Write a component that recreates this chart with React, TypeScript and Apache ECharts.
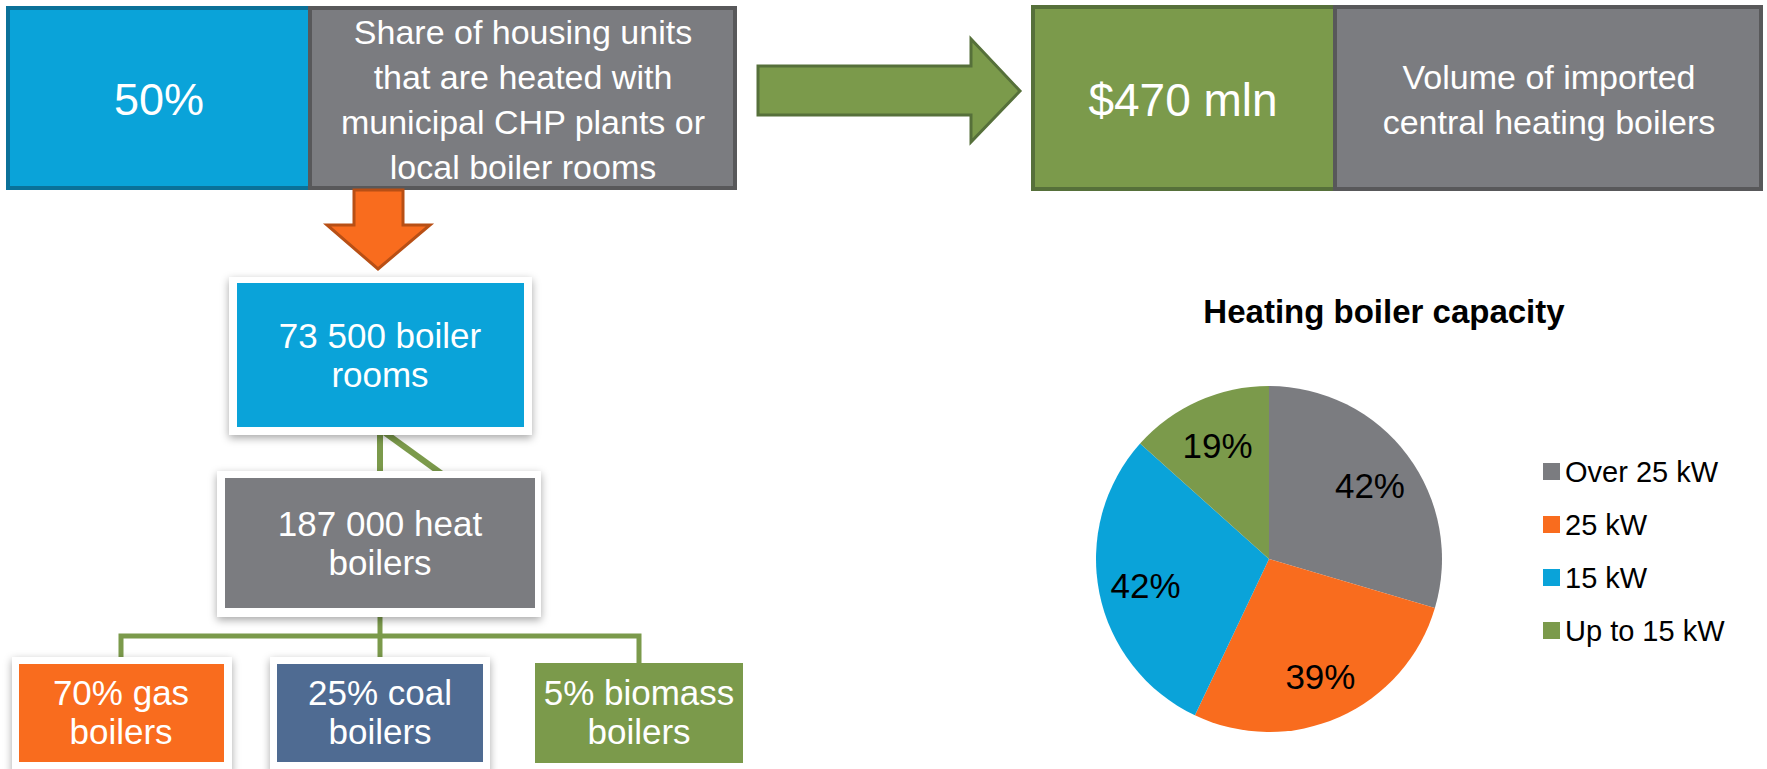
import React, { useEffect, useRef } from "react";
import * as echarts from "echarts";

// ---- Data ----
const pieTitle = "Heating boiler capacity";
const capacityCategories = ["Over 25 kW", "25 kW", "15 kW", "Up to 15 kW"];
const capacityValues = [42, 39, 42, 19];
const capacityColors = ["#7b7c80", "#f96c1e", "#0aa3d9", "#7b9a4b"];

const shareValue = "50%";
const shareText = "Share of housing units\nthat are heated with\nmunicipal CHP plants or\nlocal boiler rooms";
const importValue = "$470 mln";
const importText = "Volume of imported\ncentral heating boilers";
const boilerRoomsText = "73 500 boiler\nrooms";
const heatBoilersText = "187 000 heat\nboilers";
const fuelLabels = ["70% gas\nboilers", "25% coal\nboilers", "5% biomass\nboilers"];

const FONT = "Liberation Sans";
const BLUE = "#0aa3d9";
const GRAY = "#7b7c80";
const GREEN = "#7b9a4b";
const ORANGE = "#f96c1e";
const SLATE = "#4f6b92";

const txt = (x: number, y: number, text: string, fontSize: number, lineHeight?: number, extra: any = {}) => ({
  type: "text",
  x,
  y,
  z: 10,
  style: {
    text,
    fill: "#ffffff",
    fontSize,
    fontFamily: FONT,
    align: "center",
    verticalAlign: "middle",
    lineHeight: lineHeight || Math.round(fontSize * 1.2),
    ...extra,
  },
});

const rect = (x: number, y: number, w: number, h: number, style: any, z = 1) => ({
  type: "rect",
  z,
  shape: { x, y, width: w, height: h },
  style,
});

const frameShadow = { shadowBlur: 8, shadowColor: "rgba(0,0,0,0.35)", shadowOffsetY: 3 };

export default function App() {
  const ref = useRef<HTMLDivElement>(null);
  useEffect(() => {
    if (!ref.current) return;
    const chart = echarts.init(ref.current, undefined, { renderer: "svg" });
    const pieData = capacityCategories.map((name, i) => ({
      name,
      value: capacityValues[i],
      itemStyle: { color: capacityColors[i] },
    }));
    const labelData = capacityCategories.map((name, i) => ({
      name,
      value: capacityValues[i],
      itemStyle: { color: "rgba(0,0,0,0)" },
    }));
    const fuelColors = [ORANGE, SLATE, GREEN];
    const fuelX = [121, 380, 639];

    const graphic: any[] = [
      // top-left boxes
      rect(8, 8, 302, 180, { fill: BLUE, stroke: "#0a7199", lineWidth: 4 }),
      rect(310, 8, 425, 180, { fill: GRAY, stroke: "#58585a", lineWidth: 4 }),
      txt(159, 99, shareValue, 45),
      txt(523, 99, shareText, 34, 45),
      // green arrow
      {
        type: "polygon",
        z: 1,
        shape: {
          points: [[758, 66], [971, 66], [971, 39], [1020, 91], [971, 142], [971, 115], [758, 115]],
        },
        style: { fill: GREEN, stroke: "#56703a", lineWidth: 3 },
      },
      // top-right boxes
      rect(1033, 7, 302, 182, { fill: GREEN, stroke: "#56703a", lineWidth: 4 }),
      rect(1335, 7, 426, 182, { fill: GRAY, stroke: "#58585a", lineWidth: 4 }),
      txt(1183, 100, importValue, 46),
      txt(1549, 99, importText, 34, 45),
      // orange down arrow
      {
        type: "polygon",
        z: 2,
        shape: {
          points: [[354, 190], [403, 190], [403, 225], [430, 225], [378, 269], [327, 225], [354, 225]],
        },
        style: { fill: ORANGE, stroke: "#b84f15", lineWidth: 3 },
      },
      // connectors between box 1 and box 2
      { type: "line", z: 1, shape: { x1: 380, y1: 430, x2: 380, y2: 476 }, style: { stroke: GREEN, lineWidth: 6 } },
      { type: "line", z: 1, shape: { x1: 384, y1: 432, x2: 442, y2: 474 }, style: { stroke: GREEN, lineWidth: 6 } },
      // box 1
      rect(229, 277, 303, 158, { fill: "#ffffff", ...frameShadow }, 2),
      rect(237, 283, 287, 144, { fill: BLUE }, 3),
      txt(380, 355, boilerRoomsText, 35, 39),
      // box 2
      rect(217, 471, 324, 146, { fill: "#ffffff", ...frameShadow }, 2),
      rect(225, 478, 310, 130, { fill: GRAY }, 3),
      txt(380, 543, heatBoilersText, 35, 39),
      // tree lines
      { type: "line", z: 1, shape: { x1: 380, y1: 612, x2: 380, y2: 664 }, style: { stroke: GREEN, lineWidth: 5 } },
      {
        type: "polyline",
        z: 1,
        shape: { points: [[121, 664], [121, 636], [639, 636], [639, 664]] },
        style: { stroke: GREEN, lineWidth: 5, fill: null },
      },
      // bottom boxes
      rect(12, 657, 220, 116, { fill: "#ffffff", ...frameShadow }, 2),
      rect(19, 664, 205, 98, { fill: fuelColors[0] }, 3),
      rect(270, 657, 220, 116, { fill: "#ffffff", ...frameShadow }, 2),
      rect(277, 664, 206, 98, { fill: fuelColors[1] }, 3),
      rect(535, 663, 208, 100, { fill: fuelColors[2] }, 3),
      ...fuelLabels.map((t, i) => txt(fuelX[i], 712, t, 35, 39)),
    ];

    chart.setOption({
      animation: false,
      textStyle: { fontFamily: FONT },
      title: {
        text: pieTitle,
        left: 1384,
        top: 295,
        textAlign: "center",
        padding: 0,
        textStyle: { fontSize: 33, fontWeight: "bold", color: "#000", fontFamily: FONT },
      },
      legend: {
        orient: "vertical",
        left: 1543,
        top: 457,
        padding: 0,
        itemWidth: 17,
        itemHeight: 17,
        itemGap: 24,
        icon: "rect",
        data: capacityCategories,
        textStyle: { fontSize: 29, color: "#000", fontFamily: FONT, lineHeight: 28 },
      },
      graphic,
      series: [
        {
          type: "pie",
          center: [1269, 559],
          radius: [0, 173],
          startAngle: 90,
          clockwise: true,
          label: { show: false },
          labelLine: { show: false },
          silent: true,
          data: pieData,
        },
        {
          type: "pie",
          center: [1269, 561],
          radius: [73, 173],
          startAngle: 90,
          clockwise: true,
          silent: true,
          z: 3,
          label: {
            show: true,
            position: "inside",
            formatter: "{c}%",
            fontSize: 35,
            color: "#000",
            fontFamily: FONT,
          },
          labelLine: { show: false },
          data: labelData,
        },
      ],
    });
    return () => chart.dispose();
  }, []);
  return (
    <div
      ref={ref}
      style={{ position: "absolute", left: 0, top: 0, width: 1767, height: 769, background: "#fff" }}
    />
  );
}
